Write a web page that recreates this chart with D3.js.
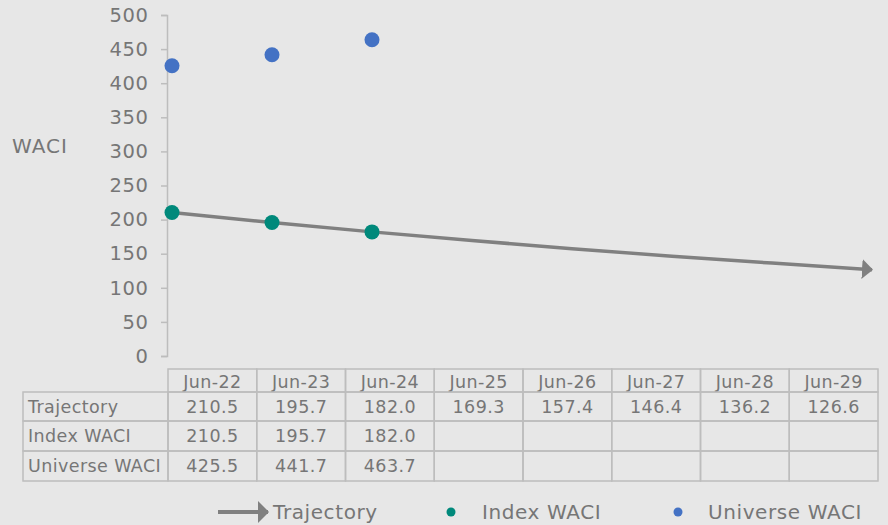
<!DOCTYPE html>
<html>
<head>
<meta charset="utf-8">
<script src="https://cdn.jsdelivr.net/npm/d3@7"></script>
<style>
	html, body { margin: 0; padding: 0; background: #e7e7e7; }
	svg { display: block; font-family: 'DejaVu Sans', Verdana, sans-serif; }
</style>
</head>
<body>
<svg id="chart" width="888" height="525"></svg>
<script>
// data
const periods = ['Jun-22', 'Jun-23', 'Jun-24', 'Jun-25', 'Jun-26', 'Jun-27', 'Jun-28', 'Jun-29']
const trajectory = [210.5, 195.7, 182.0, 169.3, 157.4, 146.4, 136.2, 126.6]
const indexWaci = [210.5, 195.7, 182.0]
const universeWaci = [425.5, 441.7, 463.7]
const yTicks = [0, 50, 100, 150, 200, 250, 300, 350, 400, 450, 500]

const textColor = '#767676'
const gridColor = '#bdbdbd'
const lineColor = '#808080'
const tealColor = '#00897b'
const blueColor = '#4472c4'

const svg = d3.select('#chart')

//Scales for the plot area
const x = d3.scalePoint().domain(periods).range([172, 872])
const y = d3.scaleLinear().domain([0, 500]).range([356, 15])

//Y axis
const yAxis = svg
	.append('g')
	.attr('transform', 'translate(167,0)')
	.call(d3.axisLeft(y).tickValues(yTicks).tickSize(6).tickPadding(13))

yAxis.select('.domain').attr('stroke', gridColor).attr('stroke-width', 1.5)
yAxis.selectAll('.tick line').attr('stroke', gridColor).attr('stroke-width', 1.5)
yAxis
	.selectAll('.tick text')
	.attr('fill', textColor)
	.attr('dx', '0.6px')
	.style('font-size', '19.5px')
	.style('letter-spacing', '0.6px')
	.style('font-family', "'DejaVu Sans', Verdana, sans-serif")

svg
	.append('text')
	.attr('x', 12)
	.attr('y', 146)
	.attr('dominant-baseline', 'central')
	.attr('fill', textColor)
	.style('font-size', '20px')
	.style('letter-spacing', '1px')
	.text('WACI')

//Arrow marker for the trajectory
const defs = svg.append('defs')
function addArrow(id, w, h) {
	defs
		.append('marker')
		.attr('id', id)
		.attr('viewBox', `0 ${-h} ${w} ${2 * h}`)
		.attr('refX', w - 1)
		.attr('refY', 0)
		.attr('markerUnits', 'userSpaceOnUse')
		.attr('markerWidth', w)
		.attr('markerHeight', 2 * h)
		.attr('orient', 'auto')
		.append('path')
		.attr('d', `M0,${-h}L${w},0L0,${h}Z`)
		.attr('fill', lineColor)
}
addArrow('arrow', 11, 10)
addArrow('arrowLegend', 11, 11)

//Trajectory line
const line = d3
	.line()
	.x((d, i) => x(periods[i]))
	.y(d => y(d))

svg
	.append('path')
	.datum(trajectory)
	.attr('d', line)
	.attr('fill', 'none')
	.attr('stroke', lineColor)
	.attr('stroke-width', 3.5)
	.attr('marker-end', 'url(#arrow)')

//Dots
svg
	.append('g')
	.selectAll('circle')
	.data(universeWaci)
	.join('circle')
	.attr('cx', (d, i) => x(periods[i]))
	.attr('cy', d => y(d))
	.attr('r', 7.5)
	.attr('fill', blueColor)

svg
	.append('g')
	.selectAll('circle')
	.data(indexWaci)
	.join('circle')
	.attr('cx', (d, i) => x(periods[i]))
	.attr('cy', d => y(d))
	.attr('r', 7.5)
	.attr('fill', tealColor)

//Data table under the chart
const col = d3.scaleBand().domain(periods).range([168, 878])
const rows = [
	{ name: 'Trajectory', values: trajectory },
	{ name: 'Index WACI', values: indexWaci },
	{ name: 'Universe WACI', values: universeWaci },
]
const rowEdges = [392, 421, 451, 481]
const headerTop = 369
const labelLeft = 23

const table = svg.append('g').style('font-size', '17.5px').style('letter-spacing', '0.4px')

//header cells
table
	.selectAll('.head')
	.data(periods)
	.join('rect')
	.attr('x', d => col(d))
	.attr('y', headerTop)
	.attr('width', col.bandwidth())
	.attr('height', rowEdges[0] - headerTop)
	.attr('fill', 'none')
	.attr('stroke', gridColor)
	.attr('stroke-width', 1.5)

table
	.selectAll('.headText')
	.data(periods)
	.join('text')
	.attr('x', d => col(d) + col.bandwidth() / 2)
	.attr('y', (headerTop + rowEdges[0]) / 2 + 1)
	.attr('text-anchor', 'middle')
	.attr('dominant-baseline', 'central')
	.attr('fill', textColor)
	.text(d => d)

rows.forEach((row, r) => {
	const top = rowEdges[r]
	const h = rowEdges[r + 1] - top
	const g = table.append('g')

	g.append('rect')
		.attr('x', labelLeft)
		.attr('y', top)
		.attr('width', col(periods[0]) - labelLeft)
		.attr('height', h)
		.attr('fill', 'none')
		.attr('stroke', gridColor)
		.attr('stroke-width', 1.5)

	g.append('text')
		.attr('x', labelLeft + 5)
		.attr('y', top + h / 2)
		.attr('dominant-baseline', 'central')
		.attr('fill', textColor)
		.text(row.name)

	g.selectAll('rect.cell')
		.data(periods)
		.join('rect')
		.attr('class', 'cell')
		.attr('x', d => col(d))
		.attr('y', top)
		.attr('width', col.bandwidth())
		.attr('height', h)
		.attr('fill', 'none')
		.attr('stroke', gridColor)
		.attr('stroke-width', 1.5)

	g.selectAll('text.val')
		.data(row.values)
		.join('text')
		.attr('class', 'val')
		.attr('x', (d, i) => col(periods[i]) + col.bandwidth() / 2)
		.attr('y', top + h / 2)
		.attr('text-anchor', 'middle')
		.attr('dominant-baseline', 'central')
		.attr('fill', textColor)
		.text(d => d.toFixed(1))
})

//Legend
const legend = svg.append('g').style('font-size', '20px').style('letter-spacing', '0.6px')
const legendY = 512

legend
	.append('line')
	.attr('x1', 218)
	.attr('x2', 268)
	.attr('y1', legendY)
	.attr('y2', legendY)
	.attr('stroke', lineColor)
	.attr('stroke-width', 4)
	.attr('marker-end', 'url(#arrowLegend)')

legend
	.append('text')
	.attr('x', 273)
	.attr('y', legendY)
	.attr('dominant-baseline', 'central')
	.attr('fill', textColor)
	.text('Trajectory')

legend.append('circle').attr('cx', 451).attr('cy', legendY).attr('r', 4.5).attr('fill', tealColor)
legend
	.append('text')
	.attr('x', 482)
	.attr('y', legendY)
	.attr('dominant-baseline', 'central')
	.attr('fill', textColor)
	.text('Index WACI')

legend.append('circle').attr('cx', 678).attr('cy', legendY).attr('r', 4.5).attr('fill', blueColor)
legend
	.append('text')
	.attr('x', 708)
	.attr('y', legendY)
	.attr('dominant-baseline', 'central')
	.attr('fill', textColor)
	.text('Universe WACI')
</script>
</body>
</html>
